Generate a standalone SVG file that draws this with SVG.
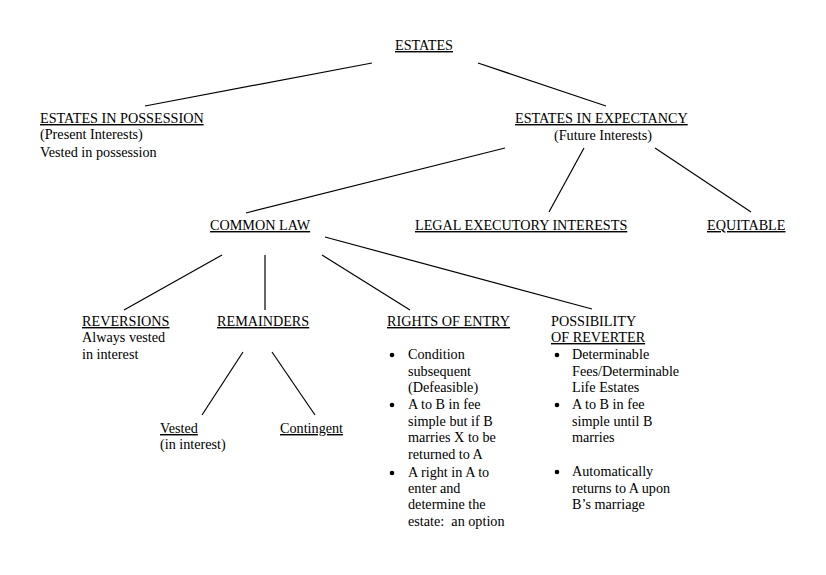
<svg xmlns="http://www.w3.org/2000/svg" width="826" height="575" viewBox="0 0 826 575">
<style>
text{font-family:"Liberation Serif","Times New Roman",serif;font-size:14.2px;fill:#000}
.u{text-decoration:underline}
.c{stroke:#000;stroke-width:1.2;fill:none}
.b{fill:#000}
</style>
<rect width="826" height="575" fill="#fff"/>
<g id="connectors">
<line class="c" x1="372" y1="63" x2="145" y2="106"/>
<line class="c" x1="478" y1="63" x2="606" y2="106"/>
<line class="c" x1="505" y1="148" x2="246" y2="213"/>
<line class="c" x1="584" y1="148" x2="549" y2="212"/>
<line class="c" x1="655" y1="148" x2="751" y2="212"/>
<line class="c" x1="222" y1="255" x2="124" y2="310"/>
<line class="c" x1="265" y1="255" x2="265" y2="310"/>
<line class="c" x1="322" y1="255" x2="410" y2="310"/>
<line class="c" x1="325" y1="237" x2="592" y2="309"/>
<line class="c" x1="243" y1="352" x2="202" y2="415"/>
<line class="c" x1="272" y1="352" x2="315" y2="415"/>
</g>
<g id="estates"><text x="395" y="50" class="u">ESTATES</text></g>
<g id="possession">
<text x="40" y="123" class="u">ESTATES IN POSSESSION</text>
<text x="40" y="139">(Present Interests)</text>
<text x="40" y="157">Vested in possession</text>
</g>
<g id="expectancy">
<text x="515" y="123" class="u">ESTATES IN EXPECTANCY</text>
<text x="603" y="140" text-anchor="middle">(Future Interests)</text>
</g>
<g id="common-law"><text x="210" y="230" class="u">COMMON LAW</text></g>
<g id="legal-executory"><text x="415" y="230" class="u">LEGAL EXECUTORY INTERESTS</text></g>
<g id="equitable"><text x="707" y="230" class="u">EQUITABLE</text></g>
<g id="reversions">
<text x="82" y="326" class="u">REVERSIONS</text>
<text x="82" y="342">Always vested</text>
<text x="82" y="359">in interest</text>
</g>
<g id="remainders"><text x="217" y="326" class="u">REMAINDERS</text></g>
<g id="vested">
<text x="160" y="433" class="u">Vested</text>
<text x="160" y="449">(in interest)</text>
</g>
<g id="contingent"><text x="280" y="433" class="u">Contingent</text></g>
<g id="rights-of-entry">
<text x="387" y="326" class="u">RIGHTS OF ENTRY</text>
<circle class="b" cx="392" cy="355" r="2.3"/><text x="408" y="359">Condition</text>
<text x="408" y="376">subsequent</text>
<text x="408" y="392">(Defeasible)</text>
<circle class="b" cx="392" cy="405" r="2.3"/><text x="408" y="409">A to B in fee</text>
<text x="408" y="426">simple but if B</text>
<text x="408" y="442">marries X to be</text>
<text x="408" y="459">returned to A</text>
<circle class="b" cx="392" cy="473" r="2.3"/><text x="408" y="477">A right in A to</text>
<text x="408" y="493">enter and</text>
<text x="408" y="509">determine the</text>
<text x="408" y="526" xml:space="preserve">estate:  an option</text>
</g>
<g id="possibility-of-reverter">
<text x="551" y="326">POSSIBILITY</text>
<text x="551" y="342" class="u">OF REVERTER</text>
<circle class="b" cx="557" cy="355" r="2.3"/><text x="572" y="359">Determinable</text>
<text x="572" y="376">Fees/Determinable</text>
<text x="572" y="392">Life Estates</text>
<circle class="b" cx="557" cy="405" r="2.3"/><text x="572" y="409">A to B in fee</text>
<text x="572" y="426">simple until B</text>
<text x="572" y="442">marries</text>
<circle class="b" cx="557" cy="472" r="2.3"/><text x="572" y="476">Automatically</text>
<text x="572" y="493">returns to A upon</text>
<text x="572" y="509">B’s marriage</text>
</g>
</svg>
